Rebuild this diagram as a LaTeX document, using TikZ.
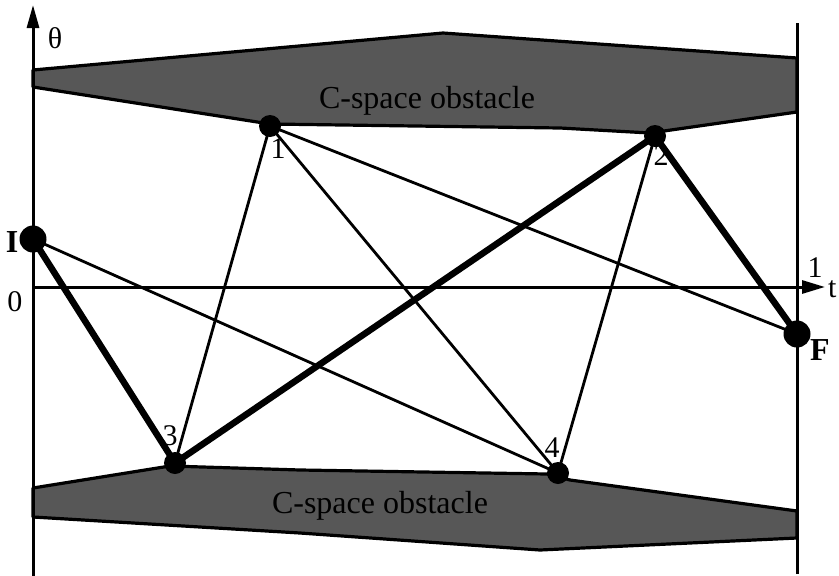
\documentclass[tikz,border=0pt]{standalone}
\usepackage{fontspec}
\setmainfont{Liberation Serif}
\usetikzlibrary{arrows.meta}
\begin{document}
\begin{tikzpicture}[x=1pt,y=-1pt,
  obst/.style={fill=black!66,draw=black,line width=3.2pt,line join=round},
  axis/.style={line width=3pt},
  thin edge/.style={line width=2.8pt},
  thick edge/.style={line width=6.5pt},
  vtx/.style={circle,fill=black,inner sep=0pt,minimum size=22pt},
  endpt/.style={circle,fill=black,inner sep=0pt,minimum size=27pt},
  lbl/.style={inner sep=0pt,font=\fontsize{30}{30}\selectfont},
  blbl/.style={inner sep=0pt,font=\fontsize{32}{32}\selectfont\bfseries},
  otxt/.style={inner sep=0pt,font=\fontsize{32}{32}\selectfont}]
\useasboundingbox (0,0) rectangle (839,576);
% obstacles
\draw[obst] (33,70) -- (443,33) -- (797,58) -- (797,112) -- (650,133) -- (560,128) -- (270,124) -- (33,87) -- cycle;
\draw[obst] (33,488) -- (170,466) -- (300,470) -- (547,474) -- (570,480) -- (797,511) -- (797,538) -- (540,550) -- (300,533) -- (33,517) -- cycle;
\node[otxt] (o1) at (427,101) {C-space obstacle};
\node[otxt] (o2) at (380,506) {C-space obstacle};
% axes
\coordinate (yb) at (33,576);
\coordinate (yt) at (33,5);
\coordinate (xl) at (33,287);
\coordinate (xr) at (825,287);
\coordinate (rb) at (797,574);
\coordinate (rt) at (797,23);
\draw[axis,-{Triangle[length=23pt,width=12pt]}] (yb) -- (yt);
\draw[axis,-{Triangle[length=23pt,width=13pt]}] (xl) -- (xr);
\draw[axis] (rb) -- (rt);
% vertices
\coordinate (pI) at (33,239);
\coordinate (p1) at (270,126);
\coordinate (p2) at (655,136);
\coordinate (p3) at (175,463);
\coordinate (p4) at (558,473);
\coordinate (pF) at (797,334);
% edges
\draw[thin edge] (pI) -- (p4);
\draw[thin edge] (p3) -- (p1);
\draw[thin edge] (p1) -- (p4);
\draw[thin edge] (p1) -- (pF);
\draw[thin edge] (p2) -- (p4);
\draw[thick edge] (pI) -- (p3);
\draw[thick edge] (p3) -- (p2);
\draw[thick edge] (p2) -- (pF);
% dots
\node[endpt] (nI) at (pI) {};
\node[endpt] (nF) at (pF) {};
\node[vtx] (n1) at (p1) {};
\node[vtx] (n2) at (p2) {};
\node[vtx] (n3) at (p3) {};
\node[vtx] (n4) at (p4) {};
% labels
\node[lbl] (th) at (55,38) {θ};
\node[lbl] (zero) at (15,302) {0};
\node[lbl] (one) at (815,268) {1};
\node[lbl,anchor=west] (tt) at (828,289) {t};
\node[blbl] (lI) at (12,242) {I};
\node[blbl] (lF) at (820,350) {F};
\node[lbl] (l1) at (278,149) {1};
\node[lbl] (l2) at (661,156) {2};
\node[lbl] (l3) at (170,436) {3};
\node[lbl] (l4) at (552,448) {4};
\end{tikzpicture}
\end{document}
